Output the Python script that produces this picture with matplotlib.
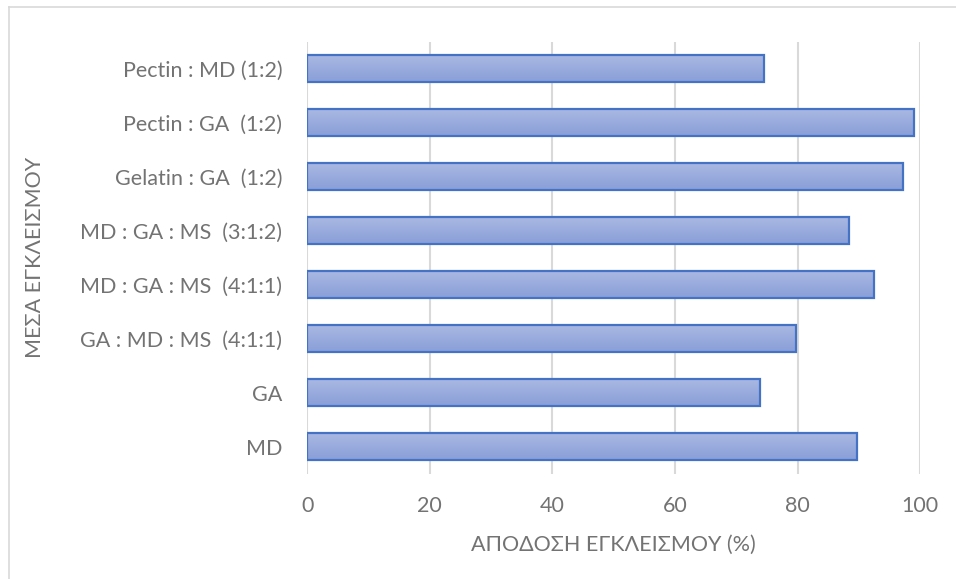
import numpy as np
import matplotlib
matplotlib.use("Agg")
import matplotlib.pyplot as plt
from matplotlib.colors import LinearSegmentedColormap
from matplotlib.lines import Line2D

plt.rcParams['font.family'] = ['Lato', 'DejaVu Sans']

categories = [
    "MD",
    "GA",
    "GA : MD : MS  (4:1:1)",
    "MD : GA : MS  (4:1:1)",
    "MD : GA : MS  (3:1:2)",
    "Gelatin : GA  (1:2)",
    "Pectin : GA  (1:2)",
    "Pectin : MD (1:2)",
]
values = [89.7, 73.9, 79.7, 92.5, 88.4, 97.2, 98.9, 74.5]
x_ticks = [0, 20, 40, 60, 80, 100]

text_color = "#737373"
grid_color = "#d9d9d9"
edge_color = "#4472c4"
fs = 15.5

fig = plt.figure(figsize=(9.56, 5.79), dpi=100)
ax = fig.add_axes([0.3214, 0.182, 0.6413, 0.746])

y = np.arange(len(categories))
bars = ax.barh(y, values, height=0.5, color="none", edgecolor=edge_color,
               linewidth=1.6, zorder=3)

# vertical gradient fill inside each bar (lighter at the top)
grad_cmap = LinearSegmentedColormap.from_list("barfill", ["#8a9fd8", "#a9b8e3"])
grad = np.linspace(0, 1, 64).reshape(-1, 1)
for bar in bars:
    x0, y0 = bar.get_x(), bar.get_y()
    w, h = bar.get_width(), bar.get_height()
    im = ax.imshow(grad, cmap=grad_cmap, aspect="auto", origin="lower",
                   extent=(x0, x0 + w, y0, y0 + h), zorder=2,
                   interpolation="bilinear")
    im.set_clip_path(bar)

ax.set_xlim(0, 100)
ax.set_ylim(-0.5, len(categories) - 0.5)
ax.set_xticks(x_ticks)
ax.set_yticks(y)
ax.set_yticklabels(categories)

ax.grid(axis="x", color=grid_color, linewidth=1.5, zorder=0)
ax.set_axisbelow(True)
for s in ax.spines.values():
    s.set_visible(False)
ax.tick_params(axis="both", length=0, labelsize=fs, colors=text_color)
ax.tick_params(axis="x", pad=16)
ax.tick_params(axis="y", pad=18)

ax.set_xlabel("ΑΠΟΔΟΣΗ ΕΓΚΛΕΙΣΜΟΥ (%)", fontsize=fs, color=text_color,
              labelpad=14)
ax.text(35 / 956, 0.5, "ΜΕΣΑ ΕΓΚΛΕΙΣΜΟΥ", rotation=90, fontsize=fs,
        color=text_color, ha="center", va="center",
        transform=ax.get_yaxis_transform().__class__(fig.transFigure, ax.transAxes))

# chart frame edges
fig.add_artist(Line2D([8.5 / 956, 8.5 / 956], [0, 1 - 7 / 579],
                      transform=fig.transFigure, color="#d9d9d9", linewidth=1.2))
fig.add_artist(Line2D([8.5 / 956, 1], [1 - 7 / 579, 1 - 7 / 579],
                      transform=fig.transFigure, color="#d9d9d9", linewidth=1.2))

fig.savefig("out.png", dpi=100, facecolor="white")
